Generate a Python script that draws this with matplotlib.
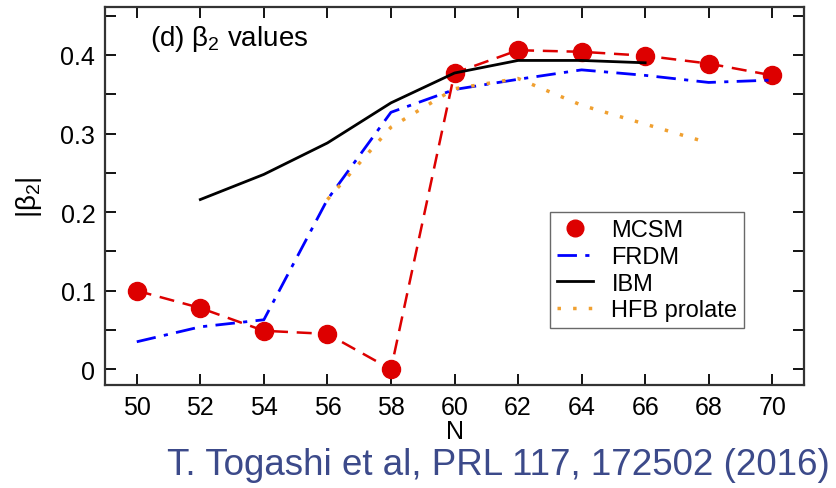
import matplotlib
matplotlib.use('Agg')
import matplotlib.pyplot as plt
from matplotlib.ticker import MultipleLocator

plt.rcParams['font.family'] = ['Liberation Sans', 'DejaVu Sans']
plt.rcParams['mathtext.fontset'] = 'custom'
plt.rcParams['mathtext.rm'] = 'Liberation Sans'
plt.rcParams['mathtext.it'] = 'Liberation Sans'

### data
n_mcsm = [50, 52, 54, 56, 58, 60, 62, 64, 66, 68, 70]
b_mcsm = [0.100, 0.078, 0.049, 0.045, 0.0, 0.377, 0.406, 0.404, 0.399, 0.389, 0.374]

n_frdm = [50, 52, 54, 56, 58, 60, 62, 64, 66, 68, 70]
b_frdm = [0.035, 0.054, 0.063, 0.216, 0.327, 0.356, 0.369, 0.381, 0.374, 0.365, 0.368]

n_ibm = [52, 54, 56, 58, 60, 62, 64, 66]
b_ibm = [0.216, 0.248, 0.288, 0.339, 0.377, 0.393, 0.393, 0.390]

n_hfb = [56, 58, 60, 62, 64, 66, 68]
b_hfb = [0.216, 0.308, 0.357, 0.370, 0.336, 0.312, 0.288]

xticks = list(range(50, 71, 2))
yticks = [0, 0.1, 0.2, 0.3, 0.4]
ylabels = ['0', '0.1', '0.2', '0.3', '0.4']

fig = plt.figure(figsize=(8.36, 4.89), dpi=100)
ax = fig.add_axes([105 / 836, 1 - 386 / 489, 699 / 836, 378 / 489])

ax.plot(n_mcsm, b_mcsm, color='#dd0000', ls=(0, (6, 3.5)), lw=1.8)
ax.plot(n_mcsm, b_mcsm, 'o', color='#dd0000', ms=13, ls='none', label='MCSM')
ax.plot(n_frdm, b_frdm, color='#0000ff', ls=(0, (7, 3, 1.5, 3)), lw=2, label='FRDM')
ax.plot(n_ibm, b_ibm, color='black', lw=2, label='IBM')
ax.plot(n_hfb, b_hfb, color='#f0a030', ls=(0, (1, 3.5)), lw=2.5, label='HFB prolate')

ax.set_xlim(49, 71)
ax.set_ylim(-0.02, 0.461)
ax.set_xticks(xticks)
ax.set_yticks(yticks)
ax.set_yticklabels(ylabels)
ax.yaxis.set_minor_locator(MultipleLocator(0.05))
ax.tick_params(which='both', direction='in', top=True, right=True, labelsize=18, width=1.3)
ax.tick_params(which='major', length=8, pad=7)
ax.tick_params(which='minor', length=8)
for s in ax.spines.values():
    s.set_linewidth(1.6)
    s.set_color('#333333')

ax.set_xlabel('N', fontsize=18, labelpad=0)
ax.set_ylabel(r'|β$_2$|', fontsize=20, labelpad=12)
ax.text(0.065, 0.9, r'(d) β$_2$ values', transform=ax.transAxes, fontsize=20)

leg = ax.legend(loc='upper left', bbox_to_anchor=(445 / 699, 173 / 378), fontsize=17,
                frameon=True, fancybox=False, edgecolor='#444444', handlelength=1.5,
                handletextpad=0.8, labelspacing=0.2, borderpad=0.3, borderaxespad=0,
                numpoints=1)
leg.get_frame().set_linewidth(1.0)
for h in leg.legend_handles[:1]:
    h.set_markersize(12)

fig.text(0.993, 1 - 466 / 489, 'T. Togashi et al, PRL 117, 172502 (2016)', ha='right', va='center',
         fontsize=26.5, color='#3c4a8a')

fig.savefig('out.png', dpi=100)
